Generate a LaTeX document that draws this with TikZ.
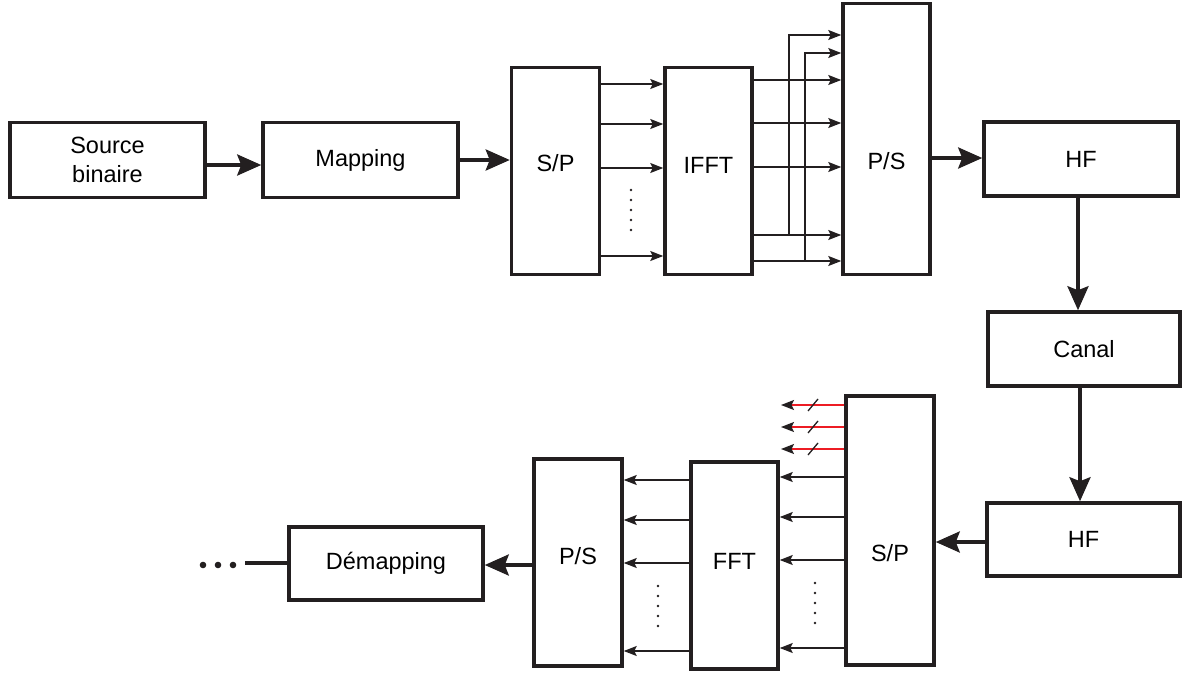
\documentclass[tikz,border=0pt]{standalone}
\usepackage{fontspec}
\setmainfont{Liberation Sans}
\usetikzlibrary{arrows.meta}
\definecolor{ink}{HTML}{231F20}
\definecolor{redl}{HTML}{ED1C24}
\begin{document}
\begin{tikzpicture}[x=1pt,y=-1pt,
 box/.style={draw=ink, line width=3.5pt, inner sep=0pt, align=center, font=\fontsize{23.5}{28.5}\selectfont},
 lbl/.style={font=\fontsize{23.5}{28.5}\selectfont, inner sep=0pt},
 big/.style={draw=ink, line width=3.5pt, -{Stealth[length=24pt,width=21pt,inset=4pt]}},
 small/.style={draw=ink, line width=1.5pt, -{Stealth[length=13pt,width=10pt,inset=2.5pt]}},
 redarrow/.style={draw=redl, line width=1.5pt, -{Stealth[length=13pt,width=10pt,inset=2.5pt,color=ink]}}]
\useasboundingbox (0,0) rectangle (1187,675);
% boxes
\node[box, minimum width=195pt, minimum height=75pt] (src) at (107.5,160) {Source\\binaire};
\node[box, minimum width=195pt, minimum height=75pt] (map) at (360.5,160) {Mapping};
\node[box, minimum width=88pt, minimum height=207pt] (sp1) at (555.5,171) {};
\node[box, minimum width=87pt, minimum height=207pt] (ifft) at (708.5,171) {};
\node[box, minimum width=87pt, minimum height=271pt] (ps1) at (886.5,139) {};
\node[box, minimum width=194pt, minimum height=74pt] (hf1) at (1081,159) {HF};
\node[box, minimum width=192pt, minimum height=74pt] (canal) at (1084,349) {Canal};
\node[box, minimum width=193pt, minimum height=73pt] (hf2) at (1083.5,539.5) {HF};
\node[box, minimum width=88pt, minimum height=269pt] (sp2) at (890,530.5) {};
\node[box, minimum width=87pt, minimum height=207pt] (fft) at (734.5,565.5) {};
\node[box, minimum width=88pt, minimum height=207pt] (ps2) at (578,562.5) {};
\node[box, minimum width=194pt, minimum height=73pt] (demap) at (386,563.5) {Démapping};
% labels of tall boxes
\node[lbl] (tsp1) at (sp1 |- 0,163) {S/P};
\node[lbl] (tifft) at (ifft |- 0,165) {IFFT};
\node[lbl] (tps1) at (ps1 |- 0,161) {P/S};
\node[lbl] (tsp2) at (sp2 |- 0,553) {S/P};
\node[lbl] (tfft) at (fft |- 0,561) {FFT};
\node[lbl] (tps2) at (ps2 |- 0,556) {P/S};
% main arrows
\draw[big] (src.east |- 0,165) -- (map.west |- 0,165);
\draw[big] (map.east |- 0,160) -- (sp1.west |- 0,160);
\draw[big] (ps1.east |- 0,158) -- (hf1.west |- 0,158);
\draw[big] (hf1.south -| 1078,0) -- (canal.north -| 1078,0);
\draw[big] (canal.south -| 1080,0) -- (hf2.north -| 1080,0);
\draw[big] (hf2.west |- 0,542) -- (sp2.east |- 0,542);
\draw[big] (ps2.west |- 0,565) -- (demap.east |- 0,565);
% demapping tail and ellipsis
\coordinate (tail) at (245,563);
\draw[ink, line width=3.5pt] (demap.west |- 0,563) -- (tail);
\foreach \x in {203,218,233} \fill[ink] (\x,565) circle (3.3pt);
% S/P -> IFFT
\foreach \y in {84,124,168,256} \draw[small] (sp1.east |- 0,\y) -- (ifft.west |- 0,\y);
\foreach \y in {190,200,...,230} \fill[ink] (631,\y) circle (1.3pt);
% IFFT -> P/S
\foreach \y in {80,123,167,235,261} \draw[small] (ifft.east |- 0,\y) -- (ps1.west |- 0,\y);
\coordinate (b1) at (789,235);
\coordinate (b2) at (805,261);
\draw[small] (b1) |- (ps1.west |- 0,35);
\draw[small] (b2) |- (ps1.west |- 0,53);
% red outputs
\foreach \y in {405,427,449} {
  \coordinate (r\y) at (781,\y);
  \draw[redarrow] (sp2.west |- 0,\y) -- (r\y);
  \draw[ink, line width=1.3pt] (808,\y+6) -- (818,\y-6);
}
% S/P -> FFT
\foreach \y in {477,517,560,648} \draw[small] (sp2.west |- 0,\y) -- (fft.east |- 0,\y);
\foreach \y in {583,593,...,623} \fill[ink] (815,\y) circle (1.3pt);
% FFT -> P/S
\foreach \y in {480,520,563,651} \draw[small] (fft.west |- 0,\y) -- (ps2.east |- 0,\y);
\foreach \y in {586,596,...,626} \fill[ink] (658,\y) circle (1.3pt);
\end{tikzpicture}
\end{document}
